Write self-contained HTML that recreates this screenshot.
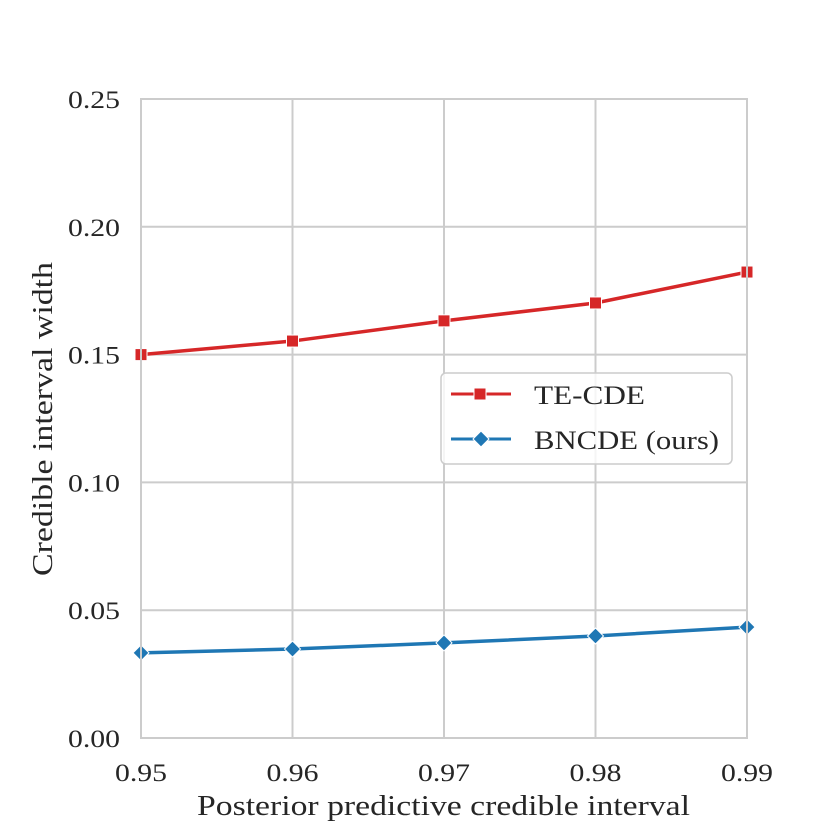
<!DOCTYPE html>
<html><head><meta charset="utf-8"><style>
body{margin:0;background:#fff}
svg text{font-family:"Liberation Serif",serif;fill:#262626}
</style></head><body>
<svg width="830" height="830" viewBox="0 0 830 830">
<g id="grid"></g>
<g id="series"></g>
<g id="ticks"></g>
<rect x="141" y="99" width="606" height="639" fill="none" stroke="#cccccc" stroke-width="2"/>
<text x="197" y="815" font-size="29" textLength="493" lengthAdjust="spacingAndGlyphs">Posterior predictive credible interval</text>
<text transform="translate(52,576) rotate(-90)" font-size="29" textLength="314" lengthAdjust="spacingAndGlyphs">Credible interval width</text>
<g>
<rect x="441" y="373" width="291" height="91" rx="5" fill="#fff" fill-opacity="0.8" stroke="#cccccc" stroke-width="1.5"/>
<g>
<line x1="451" y1="394" x2="511" y2="394" stroke="#d62728" stroke-width="3"/>
<rect x="474" y="388" width="12" height="12" fill="#d62728" stroke="#fff" stroke-width="1"/>
<text x="534" y="404" font-size="26" textLength="111" lengthAdjust="spacingAndGlyphs">TE-CDE</text></g>
<g>
<line x1="451" y1="439" x2="511" y2="439" stroke="#1f77b4" stroke-width="3"/>
<polygon points="481,431 489,439 481,447 473,439" fill="#1f77b4" stroke="#fff" stroke-width="1"/>
<text x="534" y="449" font-size="26" textLength="185" lengthAdjust="spacingAndGlyphs">BNCDE (ours)</text></g>
</g>
</svg>
<script>
const categories=[0.95,0.96,0.97,0.98,0.99];
const teCde=[0.150,0.1553,0.1632,0.1702,0.1823];
const bncde=[0.0333,0.0348,0.0372,0.0399,0.0434];
const yTicks=["0.00","0.05","0.10","0.15","0.20","0.25"];
const xTicks=["0.95","0.96","0.97","0.98","0.99"];
const NS="http://www.w3.org/2000/svg";
const X=v=>141+(v-0.95)/0.04*606;
const Y=v=>738-v/0.25*639;
function mk(t,a,p){const e=document.createElementNS(NS,t);for(const k in a)e.setAttribute(k,a[k]);p.appendChild(e);return e;}
const grid=document.getElementById('grid'),ticks=document.getElementById('ticks'),ser=document.getElementById('series');
yTicks.forEach(s=>{const v=parseFloat(s),y=Y(v);
const l=mk('line',{x1:141,x2:747,y1:y,y2:y,stroke:'#cccccc','stroke-width':2},grid);


const t=mk('text',{x:120,y:y+9,'font-size':25,'text-anchor':'end',textLength:52,lengthAdjust:'spacingAndGlyphs'},ticks);t.textContent=s;

});
xTicks.forEach(s=>{const v=parseFloat(s),x=X(v);
const l=mk('line',{x1:x,x2:x,y1:99,y2:738,stroke:'#cccccc','stroke-width':2},grid);


const t=mk('text',{x:x,y:781,'font-size':25,'text-anchor':'middle',textLength:52,lengthAdjust:'spacingAndGlyphs'},ticks);t.textContent=s;

});
function draw(vals,color,shape,name){
const pts=categories.map((c,i)=>X(c)+','+Y(vals[i])).join(' ');
const pl=mk('polyline',{points:pts,fill:'none',stroke:color,'stroke-width':3.5},ser);


categories.forEach((c,i)=>{const x=X(c),y=Y(vals[i]);let m;
if(shape==='sq')m=mk('rect',{x:x-6,y:y-6,width:12,height:12,fill:color,stroke:'#fff','stroke-width':1},ser);
else m=mk('polygon',{points:`${x},${y-8} ${x+8},${y} ${x},${y+8} ${x-8},${y}`,fill:color,stroke:'#fff','stroke-width':1},ser);

});}
draw(teCde,'#d62728','sq','te-cde');
draw(bncde,'#1f77b4','di','bncde');
</script>
</body></html>
